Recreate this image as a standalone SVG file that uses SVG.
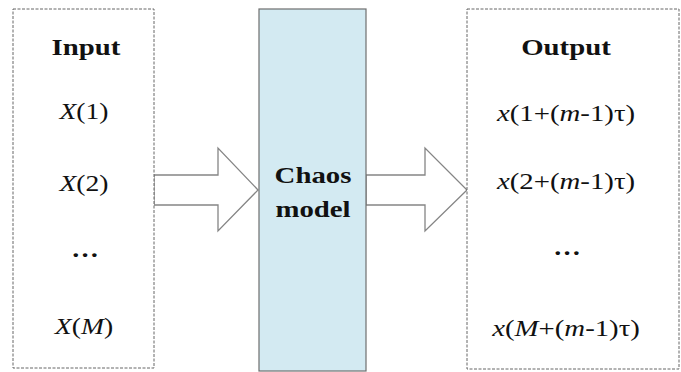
<svg xmlns="http://www.w3.org/2000/svg" width="681" height="372" viewBox="0 0 681 372">
  <style>
    .dash { fill: #ffffff; stroke: #666666; stroke-width: 1; stroke-dasharray: 3 1.5; }
    .model { fill: #d3eaf2; stroke: #6e6e6e; stroke-width: 1.2; }
    .arrow { fill: #ffffff; stroke: #858585; stroke-width: 1.3; stroke-linejoin: miter; }
    text { font-family: "Liberation Serif", "Times New Roman", serif; font-size: 24px; fill: #111111; text-anchor: middle; }
    .b { font-weight: bold; }
    .i { font-style: italic; }
  </style>
  <rect width="681" height="372" fill="#ffffff"/>

  <g id="connectors">
    <polygon class="arrow" points="154,175 218,175 218,148 258,190 218,231 218,205 154,205"/>
    <polygon class="arrow" points="366,175 425,175 425,148 467,190 425,231 425,205 366,205"/>
  </g>

  <g id="input">
    <rect class="dash" x="13" y="9" width="141" height="359"/>
    <text class="b" transform="translate(86,55) scale(1.2,1)">Input</text>
    <text transform="translate(84,119) scale(1.15,1)"><tspan class="i">X</tspan>(1)</text>
    <text transform="translate(84,191) scale(1.15,1)"><tspan class="i">X</tspan>(2)</text>
    <text class="b" transform="translate(85,257) scale(1.15,1)">…</text>
    <text transform="translate(84,334) scale(1.15,1)"><tspan class="i">X</tspan>(<tspan class="i">M</tspan>)</text>
  </g>

  <g id="chaos-model">
    <rect class="model" x="259" y="9" width="107" height="362"/>
    <text class="b" transform="translate(313,183) scale(1.2,1)">Chaos</text>
    <text class="b" transform="translate(313,217) scale(1.2,1)">model</text>
  </g>

  <g id="output">
    <rect class="dash" x="467" y="9" width="212" height="360"/>
    <text class="b" transform="translate(566,55) scale(1.2,1)">Output</text>
    <text transform="translate(566,121) scale(1.2,1)"><tspan class="i">x</tspan>(1+(<tspan class="i">m</tspan>-1)τ)</text>
    <text transform="translate(566,189) scale(1.2,1)"><tspan class="i">x</tspan>(2+(<tspan class="i">m</tspan>-1)τ)</text>
    <text class="b" transform="translate(567,255) scale(1.15,1)">…</text>
    <text transform="translate(566,336) scale(1.2,1)"><tspan class="i">x</tspan>(<tspan class="i">M</tspan>+(<tspan class="i">m</tspan>-1)τ)</text>
  </g>
</svg>
